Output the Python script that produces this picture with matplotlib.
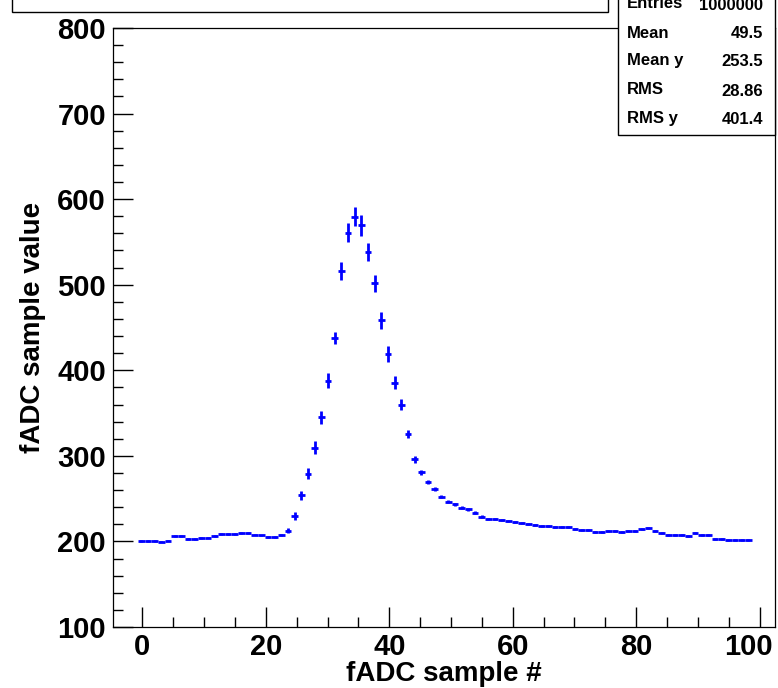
import numpy as np
import matplotlib
matplotlib.use("Agg")
import matplotlib.pyplot as plt
from matplotlib.patches import Rectangle
from matplotlib.ticker import MultipleLocator
from matplotlib.transforms import ScaledTranslation

# ---- data (profile bins) ----
n_bins = 92
x_low = -0.73
x_high = 98.72

sample_mean = [
    200.9, 200.5, 200.5, 199.8, 201.0, 206.0, 206.0, 202.7, 202.5, 203.8,
    204.5, 206.3, 208.5, 208.5, 208.5, 209.5, 209.5, 208.0, 207.0, 205.5,
    205.5, 207.5, 212.5, 229.5, 254.0, 279.0, 309.5, 345.0, 388.0, 438.0,
    516.0, 561.0, 579.5, 569.5, 538.6, 501.6, 458.4, 419.0, 385.5, 360.0,
    325.5, 296.0, 280.8, 269.8, 261.3, 252.3, 246.4, 243.4, 239.4, 237.5,
    233.6, 228.9, 226.2, 226.0, 224.5, 224.2, 222.7, 221.5, 220.4, 219.5,
    218.0, 217.5, 217.0, 217.0, 216.5, 214.5, 213.5, 213.0, 210.5, 210.5,
    212.0, 212.0, 210.5, 212.0, 212.5, 215.0, 215.5, 212.5, 209.5, 207.5,
    207.5, 207.5, 206.0, 209.5, 208.0, 207.0, 203.0, 202.5, 201.7, 201.7,
    201.7, 201.5,
]

sample_err = [
    1.0, 1.0, 1.0, 1.0, 1.0, 1.0, 1.0, 1.0, 1.0, 1.0,
    1.0, 1.0, 1.0, 1.0, 1.0, 1.0, 1.0, 1.0, 1.0, 1.0,
    1.0, 1.2, 3.0, 4.5, 5.5, 6.5, 7.5, 8.0, 9.0, 7.0,
    10.0, 11.0, 11.0, 12.0, 10.5, 10.0, 10.0, 9.5, 7.5, 6.5,
    5.0, 4.0, 3.0, 2.5, 2.0, 2.0, 1.5, 1.5, 1.5, 1.5,
    1.5, 1.5, 1.5, 1.5, 1.2, 1.2, 1.2, 1.2, 1.2, 1.2,
    1.2, 1.2, 1.2, 1.2, 1.2, 1.2, 1.2, 1.2, 1.2, 1.2,
    1.2, 1.2, 1.2, 1.2, 1.2, 1.2, 1.2, 1.2, 1.2, 1.2,
    1.2, 1.2, 1.2, 1.2, 1.2, 1.2, 1.2, 1.2, 1.2, 1.2,
    1.2, 1.2,
]

stats_labels = ["Entries", "Mean", "Mean y", "RMS", "RMS y"]
stats_values = ["1000000", "49.5", "253.5", "28.86", "401.4"]

x_title = "fADC sample #"
y_title = "fADC sample value"

# ---- figure ----
W, H = 778, 688
fig = plt.figure(figsize=(W / 100, H / 100), dpi=100)
fig.patch.set_facecolor("white")
FONT = "Liberation Sans"

def fx(px):
    return px / W

def fy(py):
    return 1 - py / H

ax_l, ax_r, ax_t, ax_b = 113, 775, 28, 627
ax = fig.add_axes([fx(ax_l), fy(ax_b), (ax_r - ax_l) / W, (ax_b - ax_t) / H])

edges = np.linspace(x_low, x_high, n_bins + 1)
centers = 0.5 * (edges[:-1] + edges[1:])
half_w = 0.5 * (edges[1:] - edges[:-1])

ax.errorbar(centers, sample_mean, xerr=half_w, yerr=sample_err, fmt="none",
            ecolor=(0, 0, 1), elinewidth=2.0, capsize=0)

ax.set_xlim(-4.78, 102.5)
ax.set_ylim(100, 800)

ax.xaxis.set_major_locator(MultipleLocator(20))
ax.xaxis.set_minor_locator(MultipleLocator(5))
ax.yaxis.set_major_locator(MultipleLocator(100))
ax.yaxis.set_minor_locator(MultipleLocator(20))

ax.tick_params(which="both", direction="in", top=False, right=False,
               width=1.0, color="black")
ax.tick_params(which="major", length=14.4)
ax.tick_params(which="minor", length=7.2)
ax.tick_params(axis="x", which="major", pad=4)
ax.tick_params(axis="y", which="major", pad=5)

fig.canvas.draw()
for lab in ax.get_xticklabels() + ax.get_yticklabels():
    lab.set_fontfamily(FONT)
    lab.set_fontweight("bold")
    lab.set_fontsize(21)
for lab in ax.get_xticklabels():
    if lab.get_text() == "100":
        lab.set_transform(lab.get_transform() +
                          ScaledTranslation(-8 / 72, 0, fig.dpi_scale_trans))

for s in ax.spines.values():
    s.set_linewidth(0.9)
    s.set_color("black")

ax.set_xlabel(x_title, fontfamily=FONT, fontweight="bold", fontsize=20, labelpad=0)
ax.set_ylabel(y_title, fontfamily=FONT, fontweight="bold", fontsize=20, labelpad=8)

# title box (cut at top)
fig.patches.append(Rectangle((fx(12), fy(12)), fx(608) - fx(12), 0.05,
                             transform=fig.transFigure, facecolor="white",
                             edgecolor="black", linewidth=1.0, zorder=5))

# stats box (cut at top)
fig.patches.append(Rectangle((fx(618), fy(135)), fx(775) - fx(618), 0.3,
                             transform=fig.transFigure, facecolor="white",
                             edgecolor="black", linewidth=1.0, zorder=5))

row_y = [4, 33, 60, 90, 118]
for lab, val, ry in zip(stats_labels, stats_values, row_y):
    fig.text(fx(627), fy(ry), lab, ha="left", va="center", fontfamily=FONT,
             fontweight="bold", fontsize=12, zorder=6)
    fig.text(fx(763), fy(ry + 1), val, ha="right", va="center", fontfamily=FONT,
             fontweight="bold", fontsize=12, zorder=6)

fig.savefig("out.png", dpi=100)
